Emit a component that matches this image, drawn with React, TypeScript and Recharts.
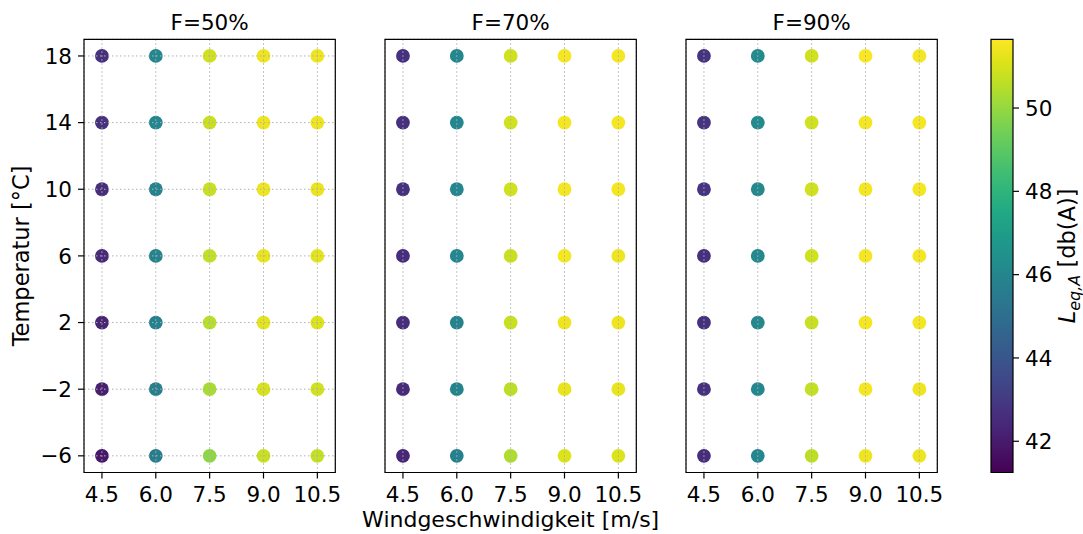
import React from 'react';
import {
  ScatterChart,
  Scatter,
  XAxis,
  YAxis,
  CartesianGrid,
  ReferenceArea
} from 'recharts';

const windSpeeds = [4.5, 6.0, 7.5, 9.0, 10.5];
const temperatures = [18, 14, 10, 6, 2, -2, -6];
const panelTitles = ['F=50%', 'F=70%', 'F=90%'];

// L_eq,A in db(A), one row per temperature (18 °C first), one column per wind speed
const levelsF50 = [
  [42.7, 46.0, 50.9, 51.4, 51.4],
  [42.7, 46.0, 50.8, 51.4, 51.4],
  [42.6, 45.9, 50.8, 51.4, 51.3],
  [42.5, 45.9, 50.7, 51.3, 51.2],
  [42.3, 45.8, 50.5, 51.2, 51.1],
  [42.1, 45.7, 50.3, 51.0, 50.9],
  [41.9, 45.6, 49.9, 50.8, 50.7]
];
const levelsF70 = [
  [42.7, 46.0, 50.9, 51.5, 51.5],
  [42.7, 46.0, 50.9, 51.5, 51.5],
  [42.7, 46.0, 50.9, 51.5, 51.5],
  [42.6, 46.0, 50.8, 51.5, 51.4],
  [42.6, 45.9, 50.8, 51.4, 51.4],
  [42.5, 45.9, 50.6, 51.3, 51.3],
  [42.4, 45.8, 50.4, 51.1, 51.1]
];
const levelsF90 = [
  [42.8, 46.2, 50.9, 51.6, 51.5],
  [42.8, 46.2, 50.9, 51.5, 51.5],
  [42.8, 46.1, 50.9, 51.5, 51.5],
  [42.7, 46.1, 50.9, 51.5, 51.5],
  [42.7, 46.1, 50.8, 51.5, 51.5],
  [42.7, 46.0, 50.7, 51.5, 51.4],
  [42.6, 46.0, 50.6, 51.4, 51.4]
];
const panelLevels = [levelsF50, levelsF70, levelsF90];

const xDomain = [4, 11];
const yDomain = [-7, 19];
const yTicks = [-6, -2, 2, 6, 10, 14, 18];
const colorbarMin = 41.25;
const colorbarMax = 51.65;
const colorbarTicks = [42, 44, 46, 48, 50];

// viridis sampled every 5 %
const viridis = [
  '#440154', '#471365', '#482475', '#463480', '#414487', '#3b528b', '#355f8d',
  '#2f6c8e', '#2a788e', '#25848e', '#21918c', '#1e9c89', '#22a884', '#2fb47c',
  '#44bf70', '#5ec962', '#7ad151', '#9bd93c', '#bddf26', '#dfe318', '#fde725'
];

const W = 1083;
const H = 534;
const FONT = 21.5;
const LABEL_FONT = 22.5;
const PANEL_STEP = 301;
const Y_AXIS_W = 84;
const PLOT_W = 251.3;

function hexToRgb(h: string) {
  return [1, 3, 5].map((i) => parseInt(h.slice(i, i + 2), 16));
}

function levelColor(v: number) {
  let t = (v - colorbarMin) / (colorbarMax - colorbarMin);
  t = Math.max(0, Math.min(1, t));
  const pos = t * (viridis.length - 1);
  const i = Math.min(Math.floor(pos), viridis.length - 2);
  const f = pos - i;
  const a = hexToRgb(viridis[i]);
  const b = hexToRgb(viridis[i + 1]);
  const c = a.map((x, k) => Math.round(x + (b[k] - x) * f));
  return `rgb(${c[0]},${c[1]},${c[2]})`;
}

const toPoints = (levels: number[][]) =>
  temperatures.flatMap((temp, r) =>
    windSpeeds.map((wind, c) => ({ wind, temp, level: levels[r][c] }))
  );

const formatTemp = (v: number) => (v < 0 ? `\u2212${-v}` : `${v}`);

const renderDot = (props: any) => (
  <circle cx={props.cx} cy={props.cy} r={6.9} fill={levelColor(props.payload.level)} />
);

const renderYLabel = (props: any) => {
  const vb = props.viewBox || { x: 0, y: 39.3, height: 433 };
  const x = vb.x + 29;
  const y = vb.y + vb.height / 2;
  return (
    <text x={x} y={y} transform={`rotate(-90, ${x}, ${y})`} textAnchor="middle" fontSize={LABEL_FONT} fill="#000">
      Temperatur [°C]
    </text>
  );
};

const renderColorbarLabel = (props: any) => {
  const vb = props.viewBox || { x: 1013, y: 39.3, height: 433 };
  const x = vb.x + 62;
  const y = vb.y + vb.height / 2;
  return (
    <text x={x} y={y} transform={`rotate(-90, ${x}, ${y})`} textAnchor="middle" fontSize={LABEL_FONT} fill="#000">
      <tspan fontStyle="italic">L</tspan>
      <tspan fontStyle="italic" fontSize={16} dy={5}>eq,A</tspan>
      <tspan dy={-5}>{' [db(A)]'}</tspan>
    </text>
  );
};

function Panel({ index }: { index: number }) {
  const first = index === 0;
  const tickStyle = { fill: '#000', fontSize: FONT };
  const left = index * PANEL_STEP;
  const right = W - (left + Y_AXIS_W + PLOT_W);
  return (
    <div style={{ position: 'absolute', left: 0, top: 0 }}>
      <ScatterChart
        width={W}
        height={H}
        margin={{ top: 39.3, right, bottom: 31.5, left }}
      >
        <XAxis
          type="number"
          dataKey="wind"
          domain={xDomain}
          ticks={windSpeeds}
          tickFormatter={(v: number) => v.toFixed(1)}
          tick={tickStyle}
          tickSize={6}
          tickMargin={8}
          tickLine={{ stroke: '#000', strokeWidth: 1.2 }}
          axisLine={false}
          height={30}
          label={
            index === 1
              ? { value: 'Windgeschwindigkeit [m/s]', position: 'bottom', offset: 8.5, fontSize: 22, fill: '#000' }
              : undefined
          }
        />
        <YAxis
          type="number"
          dataKey="temp"
          domain={yDomain}
          ticks={yTicks}
          tickFormatter={formatTemp}
          tick={first ? tickStyle : false}
          tickSize={6}
          tickMargin={6}
          tickLine={{ stroke: '#000', strokeWidth: 1.2 }}
          axisLine={false}
          width={Y_AXIS_W}
          label={first ? { content: renderYLabel } : undefined}
        />
        <Scatter data={toPoints(panelLevels[index])} shape={renderDot} isAnimationActive={false} />
        <CartesianGrid stroke="#b0b0b0" strokeDasharray="1.5 2.5" zIndex={1500} />
        <ReferenceArea
          x1={xDomain[0]}
          x2={xDomain[1]}
          y1={yDomain[0]}
          y2={yDomain[1]}
          ifOverflow="visible"
          zIndex={1600}
          fill="none"
          stroke="#000"
          strokeDasharray="none"
          strokeWidth={1.2}
          label={{ value: panelTitles[index], position: 'top', offset: 9.3, fontSize: FONT, fill: '#000' }}
        />
      </ScatterChart>
    </div>
  );
}

// invisible anchors so the colorbar axis has data to measure
const colorbarAnchors = [colorbarMin, colorbarMax].map((y) => ({ x: 0.5, y }));

function Colorbar() {
  return (
    <div style={{ position: 'absolute', left: 0, top: 0 }}>
      <ScatterChart width={W} height={H} margin={{ top: 39.3, right: 0, bottom: 61.5, left: 991 }}>
        <defs>
          <linearGradient id="viridisBar" x1="0" y1="1" x2="0" y2="0">
            {viridis.map((c, i) => (
              <stop key={c} offset={`${(i / (viridis.length - 1)) * 100}%`} stopColor={c} />
            ))}
          </linearGradient>
        </defs>
        <XAxis type="number" dataKey="x" domain={[0, 1]} hide />
        <YAxis
          type="number"
          dataKey="y"
          orientation="right"
          domain={[colorbarMin, colorbarMax]}
          ticks={colorbarTicks}
          tick={{ fill: '#000', fontSize: FONT }}
          tickSize={6}
          tickMargin={6}
          tickLine={{ stroke: '#000', strokeWidth: 1.2 }}
          axisLine={false}
          width={70}
          label={{ content: renderColorbarLabel }}
        />
        <Scatter data={colorbarAnchors} shape={() => <g />} isAnimationActive={false} />
        <ReferenceArea
          x1={0}
          x2={1}
          y1={colorbarMin}
          y2={colorbarMax}
          ifOverflow="visible"
          fill="url(#viridisBar)"
          fillOpacity={1}
          stroke="#000"
          strokeWidth={1.2}
        />
      </ScatterChart>
    </div>
  );
}

export default function App() {
  return (
    <div
      style={{
        position: 'absolute',
        left: 0,
        top: 0,
        width: W,
        height: H,
        background: '#fff',
        fontFamily: '"DejaVu Sans", sans-serif'
      }}
    >
      {panelTitles.map((t, i) => (
        <Panel key={t} index={i} />
      ))}
      <Colorbar />
    </div>
  );
}
